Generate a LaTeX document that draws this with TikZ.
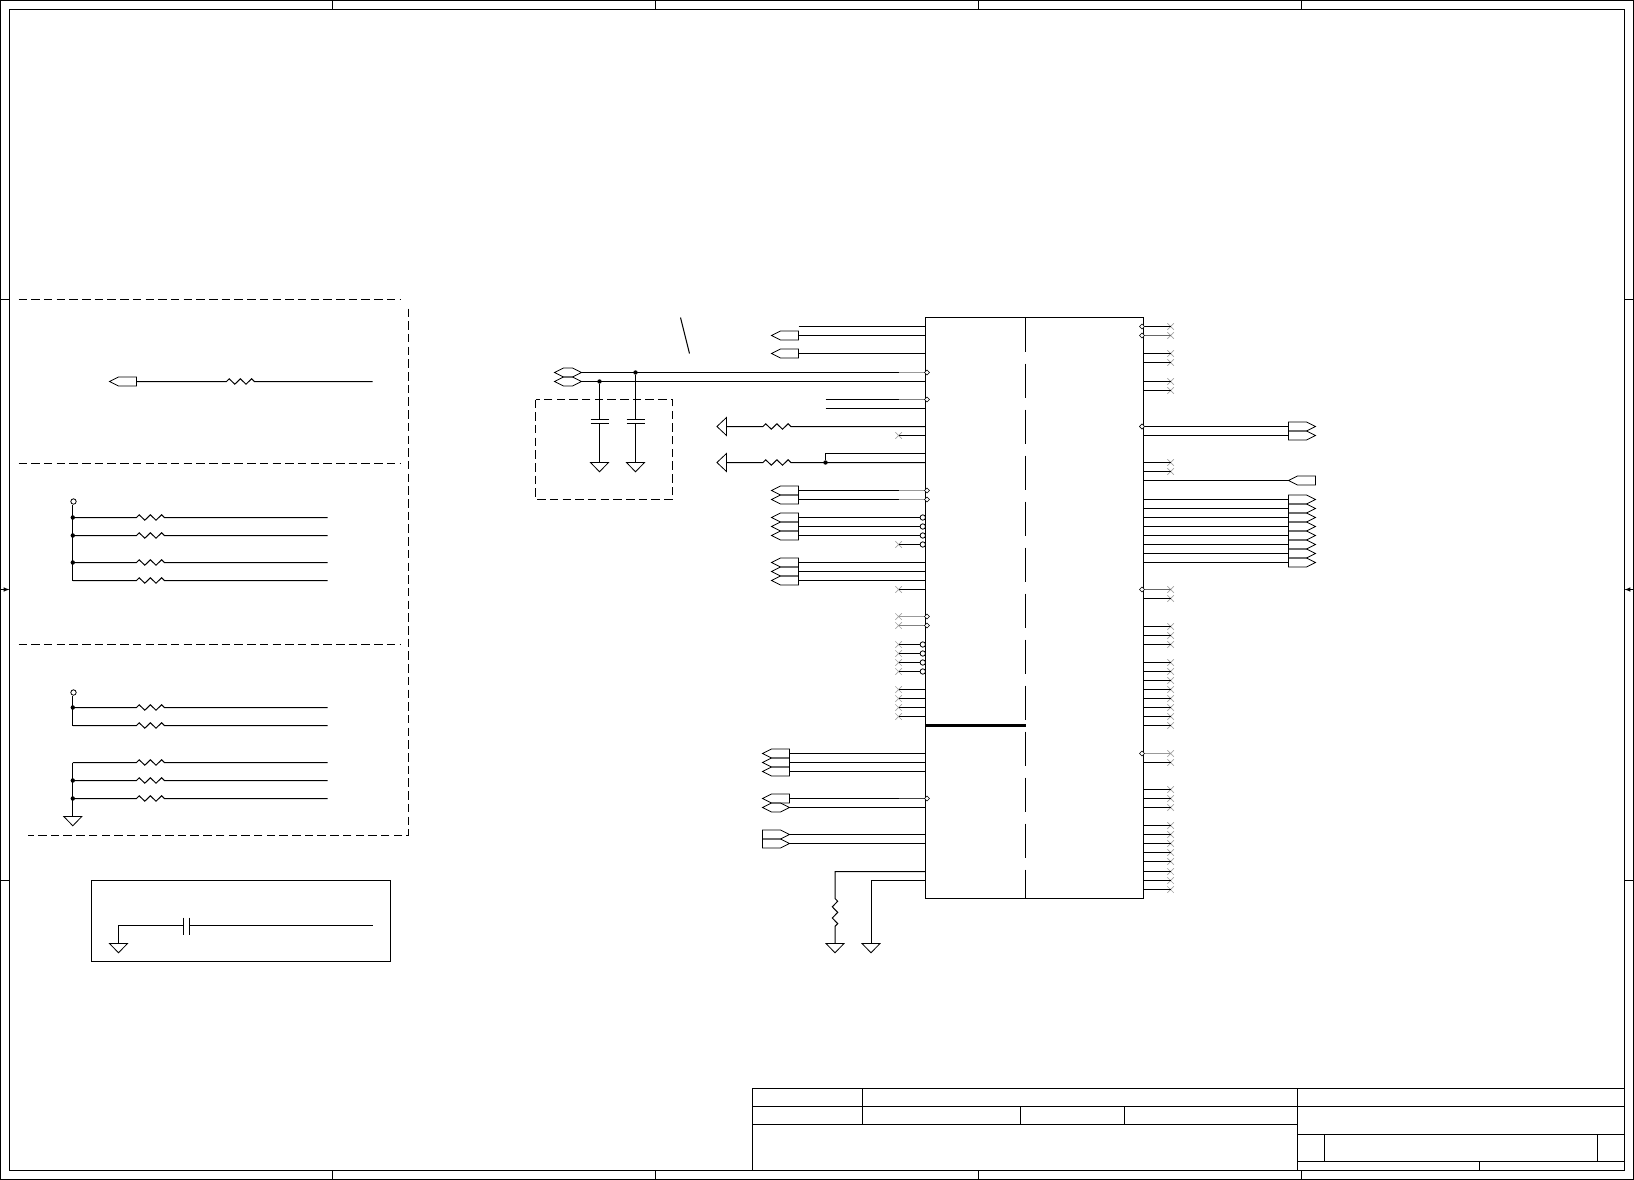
\documentclass[tikz,border=0pt]{standalone}
\usetikzlibrary{shapes.geometric}
\usetikzlibrary{shapes.misc}
\usepackage{tikz}

% one unit is one pixel of the sheet
\def\resh{-- ++(2.7,-2.7) -- ++(5.6,5.4) -- ++(5.6,-5.4) -- ++(5.6,5.4) -- ++(5.6,-5.4) -- ++(2.7,2.7)}
\def\resv{-- ++(2.7,2.7) -- ++(-5.4,5.6) -- ++(5.4,5.6) -- ++(-5.4,5.6) -- ++(5.4,5.6) -- ++(-2.7,2.7)}

\tikzset{
    wire/.style={line width=1pt},
    thin wire/.style={line width=0.8pt},
    fence/.style={line width=0.9pt,dash pattern=on 8.5pt off 4.2pt},
    nc/.style={cross out,draw=black!35,line width=0.7pt,minimum size=6.5pt,inner sep=0pt,outer sep=0pt},
    dot/.style={circle,fill=black,minimum size=4.4pt,inner sep=0pt},
    bubble/.style={circle,draw,thin wire,minimum size=5.4pt,inner sep=0pt,outer sep=0pt},
    tap/.style={diamond,draw,line width=0.6pt,fill=white,minimum size=5pt,inner sep=0pt,outer sep=0pt},
    shade/.style={line width=1.4pt,black!40},
    portl/.pic={\draw[thin wire] (0,-4.5) -- (-18,-4.5) -- (-27,0) -- (-18,4.5) -- (0,4.5) -- cycle;},
    portr/.pic={\draw[thin wire] (0,-4.5) -- (18,-4.5) -- (27,0) -- (18,4.5) -- (0,4.5) -- cycle;},
    hexport/.pic={\draw[thin wire] (0,0) -- (-9,-4.5) -- (-18,-4.5) -- (-27,0) -- (-18,4.5) -- (-9,4.5) -- cycle;},
    gnd/.pic={\draw[thin wire] (-9,0) -- (9,0) -- (0,9.3) -- cycle;},
    rail/.pic={\draw[thin wire] (0,-9) -- (0,9) -- (-9.6,0) -- cycle;},
}

\begin{document}
\begin{tikzpicture}[x=1pt,y=-1pt,wire,>=latex]
    \useasboundingbox (-0.5,-0.5) rectangle (1633.5,1179.5);

    % sheet frame
    \draw (0,0) rectangle (1633,1179);
    \draw (9,9) rectangle (1624,1170);
    \foreach \x in {332,655,978,1301} {
        \draw (\x,0) -- (\x,9);
        \draw (\x,1170) -- (\x,1179);
    }
    \foreach \y in {299,880} {
        \draw (0,\y) -- (9,\y);
        \draw (1624,\y) -- (1633,\y);
    }
    \draw[->] (0,589) -- (9,589);
    \draw[->] (1633,589) -- (1624,589);

    % title block
    \draw (752,1170) |- (1624,1088);
    \draw (752,1106) -- (1624,1106);
    \draw (752,1124) -- (1297,1124);
    \draw (1297,1134) -- (1624,1134);
    \draw (1297,1161) -- (1624,1161);
    \draw (862,1088) -- (862,1124);
    \draw (1020,1106) -- (1020,1124);
    \draw (1124,1106) -- (1124,1124);
    \draw (1297,1088) -- (1297,1170);
    \draw (1324,1134) -- (1324,1161);
    \draw (1597,1134) -- (1597,1161);
    \draw (1479,1161) -- (1479,1170);

    % left hand option fences
    \draw[fence] (18,299) -- (400,299);
    \draw[fence] (18,463) -- (400,463);
    \draw[fence] (18,644) -- (400,644);
    \draw[fence] (408,308) -- (408,835) -- (27,835);

    \coordinate (opta) at (136,381);
    \coordinate (optb) at (372,381);
    \pic at (opta) {portl};
    \draw (opta) -- (226,381) \resh -- (optb);

    \node[bubble] (vcca) at (73,501) {};
    \coordinate (raila) at (72.3,504);
    \foreach \y in {517,535,562,580} {
        \coordinate (ea\y) at (327,\y);
        \draw (raila |- ea\y) -- (136,\y) \resh -- (ea\y);
    }
    \draw (raila) -- (raila |- ea580);
    \foreach \y in {517,535,562} \node[dot] at (raila |- ea\y) {};

    \node[bubble] (vccb) at (73,692) {};
    \coordinate (railb) at (72.3,695);
    \foreach \y in {707,725,762,780,798} {
        \coordinate (eb\y) at (327,\y);
        \draw (railb |- eb\y) -- (136,\y) \resh -- (eb\y);
    }
    \draw (railb) -- (railb |- eb725);
    \node[dot] at (railb |- eb707) {};
    \coordinate (gndb) at (72.3,816);
    \draw (railb |- eb762) -- (gndb);
    \foreach \y in {780,798} \node[dot] at (railb |- eb\y) {};
    \pic at (gndb) {gnd};

    \draw (91,880) rectangle (390,961);
    \coordinate (gndc) at (118,943);
    \coordinate (optc) at (372,925);
    \draw (gndc) |- (183,925) (189,925) -- (optc);
    \draw (183,917) -- (183,934) (189,917) -- (189,934);
    \pic at (gndc) {gnd};

    % the part itself
    \node[draw,anchor=north west,minimum width=218pt,minimum height=581pt,inner sep=0pt,outer sep=0pt] (ic) at (925,317) {};
    \draw[dash pattern=on 34.4pt off 11.6pt] (1025,317) -- (1025,898);
    \draw[line width=3pt] (ic.west |- 0,725) -- (1025,725);

    \draw (680,317) -- (689,353);

    % pair on the far left with decoupling
    \draw[fence] (535,399) rectangle (672,499);
    \foreach \y in {372,381} {
        \coordinate (pw\y) at (581,\y);
        \pic at (pw\y) {hexport};
        \draw (pw\y) -- (ic.west |- pw\y);
    }
    \foreach \n/\x/\y in {capa/599/381,capb/635/372} {
        \node[dot] (\n) at (\x,\y) {};
        \coordinate (g\n) at (\x,462);
        \draw (\n) -- (\x,419) (\x,423) -- (g\n);
        \draw (\x-9,419) -- (\x+9,419) (\x-9,423) -- (\x+9,423);
        \pic at (g\n) {gnd};
    }

    % left pins with a port
    \foreach \y in {335,353,490,499,517,526,535,562,571,580} {
        \coordinate (lp\y) at (798,\y);
        \pic at (lp\y) {portl};
    }
    \foreach \y in {335,353,490,499,562,571,580} \draw (lp\y) -- (ic.west |- lp\y);
    \foreach \y in {753,762,771,798} {
        \coordinate (lp\y) at (789,\y);
        \pic at (lp\y) {portl};
        \draw (lp\y) -- (ic.west |- lp\y);
    }
    \coordinate (lp807) at (789,807);
    \pic at (lp807) {hexport};
    \draw (lp807) -- (ic.west |- lp807);
    \foreach \y in {834,843} {
        \coordinate (lq\y) at (762,\y);
        \coordinate (lp\y) at (789,\y);
        \pic at (lq\y) {portr};
        \draw (lp\y) -- (ic.west |- lp\y);
    }

    % left pins without a port
    \draw (798,326) -- (925,326);
    \foreach \y in {399,408} \draw (825,\y) -- (925,\y);

    % left pins to the rail triangles
    \coordinate (rla) at (726,426);
    \coordinate (rlb) at (726,462);
    \pic at (rla) {rail};
    \pic at (rlb) {rail};
    \draw (rla) -- (762.5,426) \resh -- (ic.west |- rla);
    \draw (rlb) -- (762.5,462) \resh -- (ic.west |- rlb);
    \node[dot] (jnc) at (825,462) {};
    \draw (jnc) |- (925,453);

    % left open pins
    \foreach \y in {435,589,689,698,707,716,616,625} {
        \node[nc] (xl\y) at (898,\y) {};
        \draw (xl\y.center) -- (ic.west |- xl\y);
    }

    % left pins with a bubble
    \foreach \y in {517,526,535} {
        \node[bubble] (bl\y) at (922.3,\y) {};
        \draw (lp\y) -- (bl\y);
    }
    \foreach \y in {544,644,653,662,671} {
        \node[bubble] (bl\y) at (922.3,\y) {};
        \node[nc] (xl\y) at (898,\y) {};
        \draw (xl\y.center) -- (bl\y);
    }

    % left pins with a tap
    \foreach \y/\c in {372/40,399/50,490/40,499/40,616/40,625/50,798/75} {
        \draw[shade,black!\c] (898,\y) -- (925,\y);
        \node[tap] at (926.5,\y) {};
    }

    % right open pins
    \foreach \y in {326,335,353,362,381,390,462,471,589,598,626,635,644,662,671,680,689,698,707,716,725,753,762,789,798,807,825,834,843,852,861,871,880,889} {
        \node[nc] (xr\y) at (1170,\y) {};
        \draw (ic.east |- xr\y) -- (xr\y.center);
    }
    \foreach \y/\c in {335/60,589/60,753/40} \draw[shade,black!\c] (1143,\y) -- (1170,\y);
    \foreach \y in {326,335,426,589,753} \node[tap] at (1141.5,\y) {};

    % right pins with a port
    \foreach \y in {426,435,499,508,517,526,535,544,553,562} {
        \coordinate (rp\y) at (1288,\y);
        \pic at (rp\y) {portr};
        \draw (ic.east |- rp\y) -- (rp\y);
    }
    \node[tap] at (1141.5,426) {};
    \coordinate (rq) at (1315,480);
    \coordinate (rp480) at (1288,480);
    \pic at (rq) {portl};
    \draw (ic.east |- rp480) -- (rp480);

    % bottom left pins
    \coordinate (gnda) at (834.5,943);
    \coordinate (gndd) at (870.5,943);
    \draw (ic.west |- 0,871) -| (834.5,898) \resv -- (gnda);
    \draw (ic.west |- 0,880) -| (gndd);
    \pic at (gnda) {gnd};
    \pic at (gndd) {gnd};
\end{tikzpicture}
\end{document}
